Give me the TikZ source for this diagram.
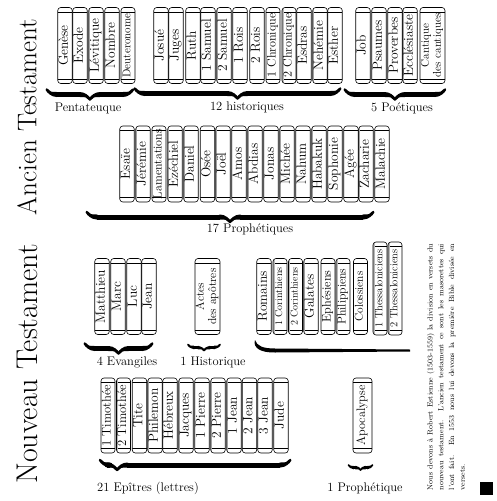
\documentclass[tikz,border=0pt]{standalone}
\usepackage{fontspec}
\usepackage{graphicx}
\usetikzlibrary{decorations.pathreplacing, calligraphy}

% spine text: turned upright, shrunk when longer than the spine
\newsavebox\spinebox
\newcommand{\spine}[2][62pt]{%
  \sbox\spinebox{\begin{tabular}{@{}c@{}}#2\end{tabular}}%
  \ifdim\wd\spinebox>#1\relax
    \rotatebox{90}{\resizebox{#1}{!}{\usebox\spinebox}}%
  \else
    \rotatebox{90}{\usebox\spinebox}%
  \fi}

% the two bands near the ends of a spine
\newcommand{\bookbands}{%
  \draw[line width=0.5pt]
    ([yshift=-4.5pt]path picture bounding box.north west) -- ([yshift=-4.5pt]path picture bounding box.north east)
    ([yshift=4.5pt]path picture bounding box.south west) -- ([yshift=4.5pt]path picture bounding box.south east);}

\tikzset{
  book/.style={
    draw=black, line width=0.6pt,   % spine outline
    rounded corners=3pt,
    minimum width=14pt, minimum height=76pt,
    inner sep=0pt, outer sep=0pt,
    font=\fontsize{13.5}{14.5}\selectfont,
    path picture={\bookbands}
  },
  worn/.style={
    book,
    path picture={\bookbands
      \draw[gray!55, line width=1.4pt]
        ([xshift=1pt]path picture bounding box.north west) -- ([xshift=1pt]path picture bounding box.south west);}
  },
  brace/.style={
    decorate, decoration={calligraphic brace, amplitude=10pt, mirror},
    line width=5pt
  },
  group label/.style={font=\fontsize{12.5}{14}\selectfont, inner sep=0pt},
  heading/.style={font=\fontsize{27}{30}\selectfont, rotate=90, inner sep=0pt}
}

\begin{document}
\begin{tikzpicture}[x=1pt, y=-1pt]
    \useasboundingbox (0,0) rectangle (497,501);

    % side titles
    \node[heading] (ancien) at (27,117) {Ancien Testament};
    \node[heading, font=\fontsize{30}{33}\selectfont] (nouveau) at (27,364) {Nouveau Testament};

    % Pentateuque
    \node[book] (genese) at (65,45.5) {\spine{Genèse}};
    \node[book] (exode) at (80,45.5) {\spine{Exode}};
    \node[worn] (levitique) at (96,45.5) {\spine{Lévitique}};
    \node[book] (nombre) at (112,45.5) {\spine{Nombre}};
    \node[book] (deut) at (128,45.5) {\spine[64pt]{Deuteronome}};

    % historiques
    \node[book] (josue) at (161,45.5) {\spine{Josué}};
    \node[book] (juges) at (176,45.5) {\spine{Juges}};
    \node[book] (ruth) at (193,45.5) {\spine{Ruth}};
    \node[book] (samuel1) at (208,45.5) {\spine{1 Samuel}};
    \node[worn] (samuel2) at (224,45.5) {\spine{2 Samuel}};
    \node[book] (rois1) at (240,45.5) {\spine{1 Rois}};
    \node[book] (rois2) at (257,45.5) {\spine{2 Rois}};
    \node[book] (chron1) at (273,45.5) {\spine[64pt]{1 Chronique}};
    \node[worn] (chron2) at (289,45.5) {\spine[64pt]{2 Chronique}};
    \node[book] (esdras) at (304,45.5) {\spine{Esdras}};
    \node[worn] (nehemie) at (320,45.5) {\spine{Nehémie}};
    \node[book] (esther) at (335,45.5) {\spine{Esther}};

    % poétiques
    \node[book] (job) at (363,45.5) {\spine{Job}};
    \node[book] (psaumes) at (379,45.5) {\spine{Psaumes}};
    \node[book] (proverbes) at (395,45.5) {\spine{Proverbes}};
    \node[worn] (ecclesiaste) at (410,45.5) {\spine{Ecclésiaste}};
    \node[book, minimum width=25pt] (cantique) at (432.5,45.5) {\spine[64pt]{Cantique\\des cantiques}};

    % prophètes
    \node[book] (esaie) at (127,164) {\spine{Esaïe}};
    \node[worn] (jeremie) at (143,164) {\spine{Jérémie}};
    \node[book] (lamentations) at (159,164) {\spine[70pt]{Lamentations}};
    \node[worn] (ezechiel) at (175,164) {\spine{Ezéchiel}};
    \node[worn] (daniel) at (191,164) {\spine{Daniel}};
    \node[book] (osee) at (207.5,164) {\spine{Osée}};
    \node[worn] (joel) at (223,164) {\spine{Joël}};
    \node[book] (amos) at (239,164) {\spine{Amos}};
    \node[worn] (abdias) at (255,164) {\spine{Abdias}};
    \node[book] (jonas) at (271,164) {\spine{Jonas}};
    \node[worn] (michee) at (287,164) {\spine{Michée}};
    \node[book] (nahum) at (303,164) {\spine{Nahum}};
    \node[worn] (habakuk) at (319,164) {\spine{Habakuk}};
    \node[book] (sophonie) at (335,164) {\spine{Sophonie}};
    \node[book] (agee) at (351,164) {\spine{Agée}};
    \node[worn] (zacharie) at (366,164) {\spine{Zacharie}};
    \node[book] (malachie) at (382,164) {\spine{Malachie}};

    % évangiles et actes
    \node[book] (matthieu) at (102,296.5) {\spine{Matthieu}};
    \node[book] (marc) at (118,296.5) {\spine{Marc}};
    \node[book] (luc) at (134,296.5) {\spine{Luc}};
    \node[book] (jean) at (149,296.5) {\spine{Jean}};
    \node[book, minimum width=25pt] (actes) at (207.5,296.5) {\spine[56pt]{Actes\\des apôtres}};

    % épîtres de Paul
    \node[book] (romains) at (264,296.5) {\spine{Romains}};
    \node[worn] (cor1) at (280,296.5) {\spine[58pt]{1 Corinthiens}};
    \node[worn] (cor2) at (295.5,296.5) {\spine[58pt]{2 Corinthiens}};
    \node[worn] (galates) at (311,296.5) {\spine{Galates}};
    \node[book] (ephesiens) at (328,296.5) {\spine[52pt]{Ephésiens}};
    \node[worn] (philippiens) at (343,296.5) {\spine[56pt]{Philippiens}};
    \node[book] (colossiens) at (360.5,296.5) {\spine[50pt]{Colossiens}};
    \node[worn, minimum height=93pt] (thess1) at (380,288.5) {\spine[78pt]{1 Thessaloniciens}};
    \node[worn, minimum height=93pt] (thess2) at (395,288.5) {\spine[78pt]{2 Thessaloniciens}};

    % autres épîtres
    \node[book, minimum height=75pt] (tim1) at (108,415.5) {\spine{1 Timothée}};
    \node[worn, minimum height=75pt] (tim2) at (123.5,415.5) {\spine{2 Timothée}};
    \node[book, minimum height=75pt] (tite) at (139.5,415.5) {\spine{Tite}};
    \node[worn, minimum height=75pt] (philemon) at (155,415.5) {\spine{Philemon}};
    \node[book, minimum height=75pt] (hebreux) at (170,415.5) {\spine{Hébreux}};
    \node[worn, minimum height=75pt] (jacques) at (186,415.5) {\spine{Jacques}};
    \node[book, minimum height=75pt] (pierre1) at (202,415.5) {\spine{1 Pierre}};
    \node[worn, minimum height=75pt] (pierre2) at (218,415.5) {\spine{2 Pierre}};
    \node[worn, minimum height=75pt] (jean1) at (234,415.5) {\spine{1 Jean}};
    \node[book, minimum height=75pt] (jean2) at (249.5,415.5) {\spine{2 Jean}};
    \node[book, minimum height=75pt] (jean3) at (265,415.5) {\spine{3 Jean}};
    \node[book, minimum height=75pt] (jude) at (281,415.5) {\spine{Jude}};

    % apocalypse
    \node[book, minimum width=19pt, minimum height=75pt] (apoc) at (362.5,415.5) {\spine[60pt]{Apocalypse}};

    % braces under the groups
    \draw[brace] ([xshift=-11pt,yshift=-6pt]genese.south west) -- ([xshift=-2pt,yshift=-6pt]deut.south east);
    \draw[brace] ([xshift=-19pt,yshift=-5pt]josue.south west) -- ([xshift=-2pt,yshift=-5pt]esther.south east);
    \draw[brace] ([xshift=-11pt,yshift=-6pt]job.south west) -- ([yshift=-6pt]cantique.south east);
    \draw[brace] ([xshift=-33pt,yshift=-10pt]esaie.south west) -- ([xshift=-16pt,yshift=-10pt]malachie.south east);
    \draw[brace] ([xshift=-10pt,yshift=-9pt]matthieu.south west) -- ([xshift=-4pt,yshift=-9pt]jean.south east);
    \draw[brace, decoration={amplitude=6pt}, line width=3.5pt] ([xshift=-7pt,yshift=-10pt]actes.south west) -- ([yshift=-10pt]actes.south east);
    \draw[brace, decoration={aspect=0.09}] ([xshift=-1pt,yshift=-7pt]tim1.south west) -- ([xshift=2pt,yshift=-7pt]jude.south east);
    \draw[brace, decoration={amplitude=5pt}, line width=3.5pt] ([xshift=-14pt,yshift=-12pt]apoc.south) -- ([xshift=10pt,yshift=-12pt]apoc.south);

    % Paul: only the long arm with its curled end
    \fill (255,340) .. controls (257,346) and (263,348.5) .. (275,348.5) -- (410,349.5)
       -- (410,351.5) -- (275,352.5) .. controls (261,352.8) and (252.5,348) .. (255,340) -- cycle;

    % group names
    \node[group label] (pentateuque) at (88,108) {Pentateuque};
    \node[group label] (historiques) at (247,107) {12 historiques};
    \node[group label] (poetiques) at (402,108) {5 Poétiques};
    \node[group label] (prophetiques) at (250,229) {17 Prophétiques};
    \node[group label] (evangiles) at (127,362) {4 Evangiles};
    \node[group label] (historique) at (213,362) {1 Historique};
    \node[group label] (epitres) at (148,488) {21 Epîtres (lettres)};
    \node[group label] (prophetique) at (365,488) {1 Prophétique};

    % note on the verses
    \node[rotate=90, text width=246pt, align=justify, inner sep=0pt,
          font=\fontsize{7.5}{10.7}\selectfont] (note) at (446,367)
      {Nous devons à Robert Estienne (1503-1559) la division en versets du\linebreak
       nouveau testament. L'ancien testament ce sont les masorettes qui\linebreak
       l'ont fait. En 1553 nous lui devons la première Bible divisée en\linebreak
       versets.};

    % end mark
    \fill (480,482) rectangle (493,495);
\end{tikzpicture}
\end{document}
